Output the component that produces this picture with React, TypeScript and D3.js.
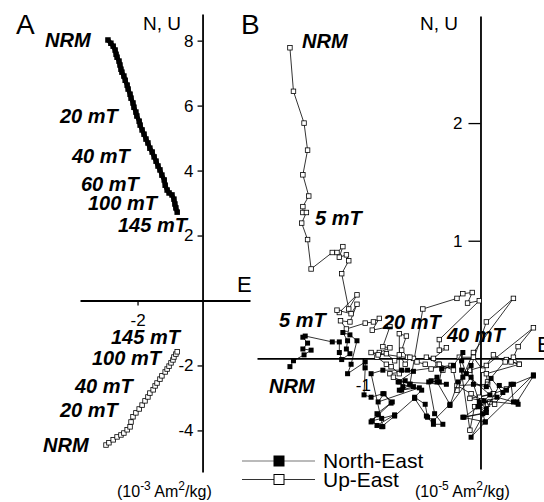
import React, { useRef, useEffect } from 'react';
import * as d3 from 'd3';

// panel A (10^-3 Am2/kg): horizontal projection (E, N) and vertical projection (E, U)
const aNeE = [-2.91, -2.82, -2.75, -2.69, -2.66, -2.63, -2.57, -2.54, -2.51, -2.48, -2.42, -2.38, -2.32, -2.29, -2.23, -2.2, -2.14, -2.11, -2.05, -2.02, -1.95, -1.92, -1.86, -1.8, -1.74, -1.68, -1.62, -1.55, -1.49, -1.43, -1.37, -1.31, -1.25, -1.18, -1.15, -1.09, -1.03, -0.94, -0.88, -0.85, -0.82, -0.78];
const aNeN = [8.02, 7.92, 7.83, 7.71, 7.58, 7.49, 7.37, 7.25, 7.12, 7.03, 6.91, 6.78, 6.63, 6.51, 6.35, 6.23, 6.08, 5.95, 5.8, 5.68, 5.52, 5.4, 5.25, 5.12, 4.97, 4.85, 4.69, 4.57, 4.42, 4.29, 4.14, 4.02, 3.86, 3.71, 3.55, 3.4, 3.31, 3.25, 3.12, 2.97, 2.85, 2.72];
const aUeE = [-2.97, -2.88, -2.75, -2.63, -2.51, -2.42, -2.32, -2.23, -2.2, -2.14, -2.05, -1.95, -1.86, -1.77, -1.68, -1.62, -1.52, -1.46, -1.4, -1.31, -1.25, -1.15, -1.09, -1.03, -0.97, -0.91, -0.88, -0.82, -0.78];
const aUeU = [-4.45, -4.38, -4.29, -4.2, -4.14, -4.08, -3.98, -3.89, -3.74, -3.58, -3.46, -3.34, -3.22, -3.09, -2.97, -2.85, -2.75, -2.63, -2.54, -2.42, -2.32, -2.2, -2.11, -2.02, -1.92, -1.83, -1.74, -1.65, -1.58];

// panel B (10^-5 Am2/kg)
const bNeE = [
  -1.62, -1.59, -1.5, -1.44, -1.51, -1.47, -1.51, -1.49, -1.26, -1.2, -1.2, -1.18, -1.11, -1.14, -1.13, -1.17, -1.11, -1.05, -1.1, -1.13,
  -0.98, -0.98, -0.99, -0.93, -0.83, -0.75, -0.88, -0.92, -0.84, -0.73, -0.88, -0.83,
  -0.93, -0.83, -0.67, -0.62, -0.57, -0.7, -0.64, -0.69, -0.52, -0.87, -0.82, -0.76, -0.87, -0.93, -0.84, -0.73, -0.56, -0.46, -0.4, -0.26, -0.37, -0.42, -0.29,
  -0.69, -0.66, -0.6, -0.67, -0.57, -0.5, -0.56, -0.47, -0.45, -0.4, -0.32, -0.39, -0.44, -0.37, -0.35, -0.33, -0.23, -0.15, -0.16, -0.12, -0.19, -0.26, -0.08,
  -0.01, 0.05, -0.02, -0.14, 0.02, 0.04, -0.08, 0.16, 0.22, 0.28, 0.45, 0.31, 0.32, 0.03, 0.08,
  -0.16, -0.15, -0.08, -0.06, 0.05, 0.09, 0.19, 0.26, 0.28, 0.14, -0.02, 0.05, -0.15, 0.04, 0.45,
];
const bNeN = [
  -0.07, -0.02, 0.03, 0.07, 0.08, 0.13, 0.18, 0.19, 0.14, 0.14, 0.05, -0.01, 0.04, 0.08, 0.15, 0.22, 0.2, 0.15, -0.05, -0.13,
  -0.03, -0.08, -0.31, -0.33, -0.3, -0.37, -0.47, -0.53, -0.51, -0.48, -0.57, -0.58,
  -0.13, -0.1, -0.1, -0.1, -0.11, -0.2, -0.19, -0.27, -0.25, -0.37, -0.3, -0.38, -0.48, -0.54, -0.58, -0.49, -0.34, -0.49, -0.53, -0.39, -0.2, -0.19, -0.22,
  -0.2, -0.24, -0.22, -0.27, -0.24, -0.27, -0.33, -0.39, -0.5, -0.56, -0.56, -0.47, -0.2, -0.16, -0.2, -0.09, -0.06, 0.05, -0.02, -0.13, -0.2, -0.4, -0.16,
  -0.37, -0.43, -0.41, -0.5, -0.47, -0.54, -0.67, -0.23, -0.27, -0.22, -0.15, -0.37, -0.39, -0.36, -0.31,
  -0.1, -0.16, -0.06, -0.22, -0.24, -0.17, -0.29, -0.22, -0.37, -0.33, -0.41, -0.46, -0.5, -0.54, -0.14,
];
const bUeE = [
  -1.62, -1.59, -1.5, -1.47, -1.51, -1.46, -1.51, -1.51, -1.48, -1.52, -1.47, -1.44, -1.26, -1.22, -1.17, -1.2, -1.14, -1.12, -1.18, -1.12,
  -1.05, -1.2, -1.22, -1.1, -1.05, -1.11, -1.19, -1.14, -0.98, -0.91, -0.86, -0.92, -0.77, -0.83, -0.77, -0.86, -0.88, -0.8, -0.76, -0.69,
  -0.69, -0.63, -0.67, -0.62, -0.57,
  -0.93, -0.87, -0.8, -0.73, -0.69, -0.64, -0.6, -0.54, -0.47, -0.42, -0.36, -0.32, -0.25, -0.77, -0.74, -0.6,
  -0.49, -0.2, -0.15, -0.07, -0.11, -0.01, -0.35, -0.35, -0.29, -0.4, -0.46, -0.35, -0.23, -0.2, -0.06, 0.28, 0.05, -0.09, 0.05, 0.45,
  0.32, 0.28, 0.33, 0.22, 0.06, 0.11, -0.01, 0.06, -0.05, -0.09,
  -0.18, -0.06, 0.02, 0.11, 0.21, 0.26, 0.33, 0.05, 0.06, -0.2, -0.08, 0.01, 0.08, -0.09, 0.11, 0.22, 0.12,
];
const bUeU = [
  2.64, 2.27, 2.0, 1.77, 1.56, 1.38, 1.29, 1.24, 1.24, 1.15, 1.01, 0.76, 0.9, 0.9, 0.95, 0.86, 0.88, 0.83, 0.72, 0.42,
  0.54, 0.39, 0.41, 0.38, 0.46, 0.31, 0.32, 0.25, 0.3, 0.31, 0.34, 0.24, 0.27, 0.1, 0.09, 0.05, 0.01, -0.05, -0.07, -0.13,
  0.21, 0.19, 0.07, 0.01, 0.0,
  0.05, 0.03, 0.04, -0.02, 0.03, -0.05, 0.01, -0.03, -0.05, -0.09, -0.05, -0.1, -0.06, -0.13, -0.16, -0.22,
  0.42, 0.51, 0.55, 0.56, 0.47, 0.49, 0.16, 0.07, 0.09, 0.0, 0.01, -0.05, -0.1, -0.27, 0.05, 0.51, 0.31, -0.1, -0.06, 0.26,
  0.1, 0.01, -0.05, -0.01, -0.2, -0.3, -0.33, -0.39, -0.41, -0.61,
  0.01, 0.01, -0.1, 0.03, -0.03, -0.03, -0.05, -0.13, -0.22, -0.23, -0.3, -0.36, -0.37, -0.34, -0.3, -0.26, -0.39,
];

const aLabelsNE = [
  { t: 'NRM', x: 45, y: 47 },
  { t: '20 mT', x: 60, y: 123 },
  { t: '40 mT', x: 72, y: 163 },
  { t: '60 mT', x: 81, y: 191 },
  { t: '100 mT', x: 88, y: 210 },
  { t: '145 mT', x: 118, y: 232 },
];
const aLabelsUE = [
  { t: '145 mT', x: 111, y: 344 },
  { t: '100 mT', x: 92, y: 365 },
  { t: '40 mT', x: 75, y: 393 },
  { t: '20 mT', x: 60, y: 417 },
  { t: 'NRM', x: 43, y: 452 },
];
const bLabels = [
  { t: 'NRM', x: 302, y: 48 },
  { t: '5 mT', x: 315, y: 225 },
  { t: '5 mT', x: 279, y: 327 },
  { t: 'NRM', x: 269, y: 393 },
  { t: '20 mT', x: 383, y: 329 },
  { t: '40 mT', x: 447, y: 342 },
];

const FONT = 'Liberation Sans, Arial, sans-serif';

const App = () => {
  const svgRef = useRef();

  useEffect(() => {
    const svg = d3.select(svgRef.current);
    svg.selectAll('*').remove();

    const xA = d3.scaleLinear().domain([-3.77, 1.46]).range([80, 250]);
    const yA = d3.scaleLinear().domain([8.82, -5.28]).range([14, 472]);
    const xB = d3.scaleLinear().domain([-1.9, 0.54]).range([257, 544]);
    const yB = d3.scaleLinear().domain([2.91, -0.94]).range([16, 469]);

    const styleAxis = (g, w) => {
      g.select('.domain').attr('stroke-width', w);
      g.selectAll('.tick line').attr('stroke-width', 1.3);
      g.selectAll('text').attr('font-size', 17).attr('font-family', FONT).attr('fill', '#000');
    };

    // axes A
    svg.append('g')
      .attr('transform', `translate(${xA(0)},0)`)
      .call(d3.axisLeft(yA).tickValues([8, 6, 4, 2, -2, -4]).tickSize(5).tickSizeOuter(0).tickPadding(4).tickFormat(d => String(d)))
      .call(g => styleAxis(g, 1.8));
    svg.append('g')
      .attr('transform', `translate(0,${yA(0)})`)
      .call(d3.axisBottom(xA).tickValues([-2]).tickSize(5).tickSizeOuter(0).tickPadding(8).tickFormat(d => String(d)))
      .call(g => styleAxis(g, 1.8));

    // axes B
    svg.append('g')
      .attr('transform', `translate(${xB(0)},0)`)
      .call(d3.axisLeft(yB).tickValues([2, 1]).tickSize(12).tickPadding(6).tickSizeOuter(0).tickFormat(d => String(d)))
      .call(g => styleAxis(g, 1.8));
    svg.append('g')
      .attr('transform', `translate(0,${yB(0)})`)
      .call(d3.axisBottom(xB).tickValues([-1]).tickSize(12).tickPadding(9).tickSizeOuter(0).tickFormat(d => String(d)))
      .call(g => styleAxis(g, 1.8));

    const series = (xs, ys, x, y, opts) => {
      const pts = xs.map((v, i) => [x(v), y(ys[i])]);
      svg.append('path')
        .attr('d', d3.line()(pts))
        .attr('fill', 'none')
        .attr('stroke', opts.lc || '#000')
        .attr('stroke-width', opts.lw);
      const s = opts.size;
      svg.append('g').selectAll('rect')
        .data(pts)
        .enter()
        .append('rect')
        .attr('x', d => d[0] - s / 2)
        .attr('y', d => d[1] - s / 2)
        .attr('width', s)
        .attr('height', s)
        .attr('fill', opts.filled ? '#000' : '#fff')
        .attr('stroke', '#000')
        .attr('stroke-width', opts.filled ? 0 : 0.8);
    };

    series(aNeE, aNeN, xA, yA, { lw: 4.5, size: 5.5, filled: true });
    series(aUeE, aUeU, xA, yA, { lw: 2, size: 4.5, filled: false, lc: '#444' });
    series(bUeE, bUeU, xB, yB, { lw: 0.8, size: 4.5, filled: false });
    series(bNeE, bNeN, xB, yB, { lw: 0.8, size: 5, filled: true });

    // step labels
    const labels = aLabelsNE.concat(aLabelsUE, bLabels);
    svg.append('g').selectAll('text')
      .data(labels)
      .enter()
      .append('text')
      .attr('x', d => d.x)
      .attr('y', d => d.y)
      .attr('font-family', FONT)
      .attr('font-size', 20)
      .attr('font-weight', 'bold')
      .attr('font-style', 'italic')
      .text(d => d.t);

    const txt = (t, x, y, size) => svg.append('text')
      .attr('x', x).attr('y', y)
      .attr('font-family', FONT)
      .attr('font-size', size)
      .text(t);

    txt('A', 16, 34, 28);
    txt('B', 241, 34, 28);
    txt('N, U', 143, 30, 19);
    txt('N, U', 420, 30, 19);
    txt('E', 237, 292, 22);
    txt('E', 537, 352, 22);

    // unit labels
    const units = (x, exp) => {
      const t = svg.append('text')
        .attr('x', x).attr('y', 497)
        .attr('font-family', FONT)
        .attr('font-size', 16);
      t.append('tspan').text('(10');
      t.append('tspan').attr('dy', -7).attr('font-size', 12).text(exp);
      t.append('tspan').attr('dy', 7).text(' Am');
      t.append('tspan').attr('dy', -7).attr('font-size', 12).text('2');
      t.append('tspan').attr('dy', 7).text('/kg)');
    };
    units(117, '-3');
    units(415, '-5');

    // legend
    const legend = [
      { t: 'North-East', filled: true, y: 461, c: '#777' },
      { t: 'Up-East', filled: false, y: 479.5, c: '#333' },
    ];
    legend.forEach(l => {
      svg.append('line')
        .attr('x1', 242).attr('x2', 315)
        .attr('y1', l.y).attr('y2', l.y)
        .attr('stroke', l.c).attr('stroke-width', 1.2);
      svg.append('rect')
        .attr('x', 274).attr('y', l.y - 5)
        .attr('width', 10).attr('height', 10)
        .attr('fill', l.filled ? '#000' : '#fff')
        .attr('stroke', '#000')
        .attr('stroke-width', 1);
      txt(l.t, 323, l.y + 7, 21);
    });
  }, []);

  return (
    <svg
      ref={svgRef}
      width={544}
      height={502}
      style={{ position: 'absolute', left: 0, top: 0, background: '#fff' }}
    />
  );
};

export default App;
